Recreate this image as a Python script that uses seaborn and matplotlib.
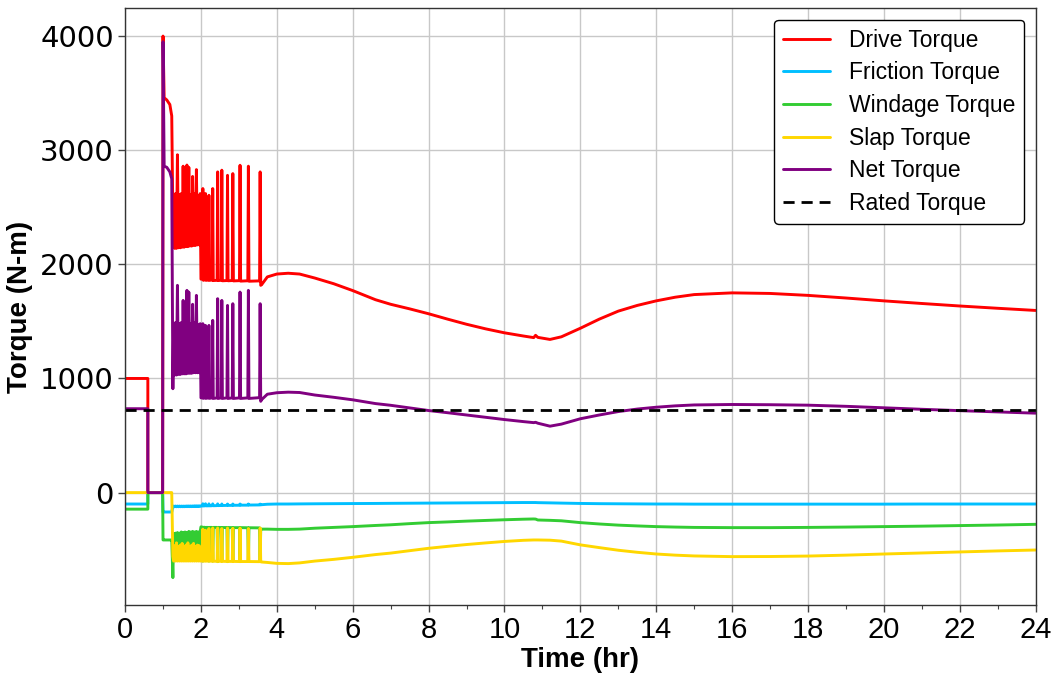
import matplotlib
matplotlib.use("Agg")
import matplotlib.pyplot as plt
import pandas as pd
import seaborn as sns

# ---------------- data ----------------
time_hr = [
    # start-up steps
    0.0, 0.6, 0.6, 0.99, 1.0, 1.03, 1.10, 1.18, 1.23, 1.26,
    # dense oscillation block
    1.28, 1.305, 1.33, 1.355, 1.38, 1.405, 1.43, 1.455, 1.48, 1.505,
    1.53, 1.555, 1.58, 1.605, 1.63, 1.655, 1.68, 1.705, 1.73, 1.755,
    1.78, 1.805, 1.83, 1.855, 1.88, 1.905, 1.93, 1.955, 1.98,
    # isolated spikes
    2.00, 2.035, 2.05, 2.065, 2.105, 2.12, 2.135, 2.195, 2.21, 2.225,
    2.295, 2.31, 2.325, 2.425, 2.44, 2.455, 2.535, 2.55, 2.565, 2.685,
    2.70, 2.715, 2.825, 2.84, 2.855, 3.015, 3.03, 3.045, 3.235, 3.25,
    3.265, 3.545, 3.56, 3.575, 3.60,
    # smooth recovery
    3.75, 4.0, 4.3, 4.6, 5.0, 5.5, 6.0, 6.6, 7.0, 7.5,
    8.0, 8.5, 9.0, 9.5, 10.0, 10.5, 10.77, 10.82, 10.88, 11.2,
    11.5, 12.0, 12.5, 13.0, 13.5, 14.0, 14.5, 15.0, 16.0, 17.0,
    18.0, 19.0, 20.0, 21.0, 22.0, 23.0, 24.0,
]

drive_torque = [
    1000, 1000, 0, 0, 4000, 3460, 3440, 3400, 3300, 2400,
    2600, 2140, 2620, 2140, 2960, 2145, 2610, 2145, 2620, 2150,
    2860, 2150, 2600, 2155, 2870, 2155, 2850, 2160, 2610, 2160,
    2770, 2165, 2620, 2165, 2830, 2170, 2600, 2170, 2620,
    1870, 1870, 2664, 1860, 1865, 2620, 1860, 1862, 2605, 1860,
    1862, 2664, 1858, 1860, 2810, 1858, 1860, 2825, 1856, 1858,
    2780, 1856, 1858, 2795, 1855, 1857, 2868, 1853, 1856, 2860,
    1852, 1855, 2810, 1816, 1822,
    1890, 1915, 1922, 1915, 1880, 1830, 1770, 1690, 1650, 1610,
    1567, 1520, 1475, 1435, 1400, 1372, 1358, 1378, 1360, 1342,
    1365, 1440, 1520, 1590, 1640, 1680, 1712, 1735, 1750, 1745,
    1728, 1705, 1680, 1657, 1635, 1615, 1596,
]

friction_torque = [
    -100, -100, 0, 0, -170, -170, -170, -170, -170, -125,
    -118, -124, -118, -124, -118, -124, -118, -124, -118, -124,
    -118, -124, -118, -123, -117, -123, -117, -123, -117, -123,
    -117, -122, -116, -122, -116, -122, -116, -122, -116,
    -118, -117, -98, -117, -116, -98, -116, -116, -99, -116,
    -115, -99, -115, -114, -99, -114, -113, -100, -113, -112,
    -100, -112, -112, -100, -111, -111, -100, -110, -110, -100,
    -109, -108, -101, -107, -106,
    -102, -100, -100, -99, -98, -97, -96, -95, -94, -93,
    -92, -91, -90, -89, -88, -87, -87, -87, -88, -90,
    -92, -95, -97, -98, -99, -100, -100, -101, -101, -101,
    -101, -101, -101, -100, -100, -100, -100,
]

windage_torque = [
    -145, -145, 0, 0, -415, -415, -415, -415, -415, -745,
    -360, -485, -355, -480, -350, -490, -355, -485, -345, -480,
    -350, -490, -345, -480, -350, -485, -340, -490, -345, -480,
    -340, -485, -345, -480, -340, -490, -345, -480, -340,
    -300, -302, -600, -304, -304, -590, -305, -305, -600, -305,
    -305, -600, -305, -305, -605, -305, -306, -600, -306, -306,
    -605, -306, -307, -600, -307, -307, -605, -307, -308, -600,
    -308, -309, -600, -318, -320,
    -320, -322, -322, -320, -312, -305, -298, -288, -282, -272,
    -263, -257, -250, -244, -238, -233, -231, -232, -240, -243,
    -247, -263, -275, -285, -292, -298, -302, -305, -307, -307,
    -305, -302, -298, -294, -289, -284, -278,
]

slap_torque = [
    0, 0, 0, 0, 0, 0, 0, 0, 0, -560,
    -600, -465, -600, -440, -600, -470, -600, -460, -600, -445,
    -600, -470, -600, -460, -600, -440, -600, -470, -600, -460,
    -600, -445, -600, -470, -600, -460, -600, -465, -600,
    -598, -600, -320, -600, -600, -330, -600, -600, -315, -600,
    -601, -310, -601, -602, -310, -602, -602, -315, -602, -603,
    -310, -603, -603, -312, -603, -604, -310, -604, -604, -315,
    -604, -605, -310, -606, -608,
    -612, -620, -622, -616, -600, -585, -567, -543, -530, -509,
    -488, -471, -455, -441, -428, -418, -415, -415, -415, -417,
    -425, -458, -482, -505, -523, -538, -548, -555, -561, -560,
    -556, -548, -538, -529, -520, -511, -503,
]

net_torque = [
    735, 735, 0, 0, 3950, 2860, 2850, 2810, 2750, 910,
    1470, 1030, 1490, 1030, 1816, 1035, 1480, 1035, 1490, 1040,
    1684, 1040, 1470, 1040, 1772, 1045, 1757, 1045, 1480, 1045,
    1650, 1050, 1490, 1050, 1728, 1050, 1470, 1050, 1480,
    830, 830, 1480, 826, 830, 1465, 826, 830, 1465, 826,
    830, 1509, 825, 830, 1699, 825, 830, 1684, 825, 830,
    1640, 825, 830, 1655, 825, 830, 1757, 825, 830, 1772,
    825, 832, 1655, 800, 815,
    862, 875, 880, 877, 855, 835, 813, 780, 765, 742,
    719, 700, 680, 660, 640, 622, 613, 616, 608, 582,
    600, 647, 680, 710, 732, 748, 760, 768, 772, 770,
    766, 756, 743, 730, 718, 707, 696,
]

rated_torque = 720
rated_span_hr = [0, 24]

series_names = ["Drive Torque", "Friction Torque", "Windage Torque",
                "Slap Torque", "Net Torque"]
series_colors = ["#ff0000", "#00bfff", "#33cc33", "#ffd700", "#800080"]
x_ticks = list(range(0, 25, 2))
x_minor_ticks = list(range(1, 24, 2))
y_ticks = [0, 1000, 2000, 3000, 4000]

# ---------------- build the long-form table ----------------
series_values = [drive_torque, friction_torque, windage_torque,
                 slap_torque, net_torque]
frames = []
for name, vals in zip(series_names, series_values):
    assert len(vals) == len(time_hr), (name, len(vals), len(time_hr))
    frames.append(pd.DataFrame({"Time": time_hr, "Torque": vals, "Series": name}))
df = pd.concat(frames, ignore_index=True)
rated_df = pd.DataFrame({"Time": rated_span_hr,
                         "Torque": [rated_torque] * len(rated_span_hr)})

# ---------------- styling ----------------
sns.set_theme(style="whitegrid")
plt.rcParams["font.family"] = ["Liberation Sans", "DejaVu Sans"]
plt.rcParams.update({"text.color": "black", "axes.labelcolor": "black",
                     "xtick.color": "black", "ytick.color": "black"})

fig, ax = plt.subplots(figsize=(10.6, 6.76), dpi=100)
fig.subplots_adjust(left=0.118, right=0.977, top=0.988, bottom=0.105)
ax.set_facecolor("white")

for name, color in zip(series_names, series_colors):
    sns.lineplot(data=df[df["Series"] == name], x="Time", y="Torque",
                 color=color, linewidth=2.1, label=name, ax=ax,
                 estimator=None, sort=False)
sns.lineplot(data=rated_df, x="Time", y="Torque", color="black",
             linewidth=2.0, linestyle=(0, (4, 2.5)), label="Rated Torque",
             ax=ax, estimator=None, sort=False)

ax.set_xlim(0, 24)
ax.set_ylim(-985, 4245)
ax.set_xticks(x_ticks)
ax.set_xticks(x_minor_ticks, minor=True)
ax.set_yticks(y_ticks)
ax.set_xticklabels([str(t) for t in x_ticks], fontsize=21)
ax.set_yticklabels([str(t) for t in y_ticks], fontsize=21,
                   family=["DejaVu Sans"])

ax.grid(True, which="major", color="#c8c8c8", linewidth=1.0)
ax.grid(False, which="minor")
ax.tick_params(axis="both", which="major", direction="out", length=5,
               width=1, color="#444444", bottom=True, left=True, pad=3)
ax.tick_params(axis="x", which="minor", direction="out", length=3,
               width=0.8, color="#444444", bottom=True)
for sp in ax.spines.values():
    sp.set_visible(True)
    sp.set_color("#333333")
    sp.set_linewidth(1.0)

ax.set_xlabel("Time (hr)", fontsize=20, fontweight="bold", labelpad=2)
ax.set_ylabel("Torque (N-m)", fontsize=20, fontweight="bold", labelpad=5)

leg = ax.legend(loc="upper right", fontsize=16.5, frameon=True, fancybox=True,
                framealpha=1.0, edgecolor="black", handlelength=2.05,
                handletextpad=0.8, labelspacing=0.42, borderpad=0.4,
                borderaxespad=0.5)
leg.get_frame().set_linewidth(1.0)
for txt in leg.get_texts():
    txt.set_color("black")

fig.savefig("out.png", dpi=100, facecolor="white")
